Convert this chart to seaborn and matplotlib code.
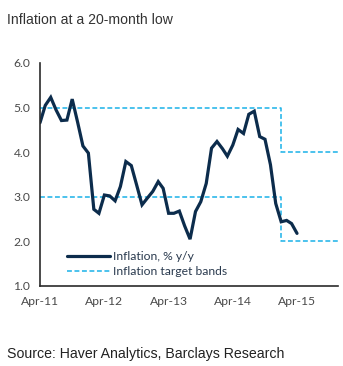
import matplotlib
matplotlib.use("Agg")
import matplotlib.pyplot as plt
import pandas as pd
import seaborn as sns

# Monthly headline inflation, % y/y, Apr-2011 .. Apr-2015
months = pd.date_range("2011-04-01", "2015-04-01", freq="MS")
inflation = [
    4.66, 5.05, 5.23, 4.95, 4.71, 4.72, 5.19, 4.67, 4.14, 3.98, 2.72, 2.63,
    3.04, 3.02, 2.91, 3.23, 3.79, 3.70, 3.27, 2.82, 2.97, 3.12, 3.34, 3.19,
    2.63, 2.63, 2.68, 2.35, 2.05, 2.67, 2.89, 3.30, 4.09, 4.24, 4.08, 3.91,
    4.16, 4.51, 4.42, 4.85, 4.92, 4.35, 4.29, 3.72, 2.85, 2.44, 2.47, 2.40,
    2.18,
]

# Inflation target band edges (step changes)
band_dates = pd.to_datetime(["2011-04-01", "2015-01-01", "2015-11-20"])
band_upper = [5.0, 4.0, 4.0]
band_lower = [3.0, 2.0, 2.0]

tick_dates = pd.to_datetime(["2011-04-01", "2012-04-01", "2013-04-01",
                             "2014-04-01", "2015-04-01"])
tick_labels = ["Apr-11", "Apr-12", "Apr-13", "Apr-14", "Apr-15"]
y_ticks = [1.0, 2.0, 3.0, 4.0, 5.0, 6.0]

title = "Inflation at a 20-month low"
source = "Source: Haver Analytics, Barclays Research"

NAVY = "#0c2c4c"
CYAN = "#1ab2e8"
AXIS = "#2b2b2b"
LABEL = "#4a4a4a"

sns.set_style("white")
plt.rcParams["font.family"] = ["Lato", "DejaVu Sans"]

W, H = 343, 366
fig = plt.figure(figsize=(W / 100, H / 100), dpi=100)
ax = fig.add_axes([40 / W, 1 - 286 / H, 298 / W, 223 / H])

band_df = pd.DataFrame({"date": band_dates, "upper": band_upper,
                        "lower": band_lower})
dash = (0, (3.2, 1.7))
sns.lineplot(data=band_df, x="date", y="upper", ax=ax, color=CYAN, lw=1.1,
             linestyle=dash, drawstyle="steps-post",
             label="Inflation target bands")
sns.lineplot(data=band_df, x="date", y="lower", ax=ax, color=CYAN, lw=1.1,
             linestyle=dash, drawstyle="steps-post", label="_nolegend_")

infl_df = pd.DataFrame({"date": months, "value": inflation})
sns.lineplot(data=infl_df, x="date", y="value", ax=ax, color=NAVY, lw=2.3,
             label="Inflation, % y/y", solid_joinstyle="miter")

ax.set_xlim(pd.Timestamp("2011-04-01"), pd.Timestamp("2015-11-20"))
ax.set_ylim(1.0, 6.0)
ax.set_xticks(tick_dates)
ax.set_xticklabels(tick_labels)
ax.set_yticks(y_ticks)
ax.set_yticklabels([f"{v:.1f}" for v in y_ticks])
ax.set_xlabel("")
ax.set_ylabel("")

for side in ("top", "right"):
    ax.spines[side].set_visible(False)
for side in ("left", "bottom"):
    ax.spines[side].set_color(AXIS)
    ax.spines[side].set_linewidth(1.2)

ax.tick_params(axis="both", which="major", direction="out", length=3,
               width=1.1, color=AXIS, labelsize=8.7, labelcolor=LABEL)
ax.tick_params(axis="y", pad=4)
ax.tick_params(axis="x", pad=4)

handles, labels = ax.get_legend_handles_labels()
order = [labels.index("Inflation, % y/y"), labels.index("Inflation target bands")]
leg = ax.legend([handles[i] for i in order], [labels[i] for i in order],
                loc="center left", bbox_to_anchor=(0.09, 0.098),
                frameon=False, fontsize=8.7, handlelength=3.6,
                handletextpad=0.25, labelspacing=0.35, borderpad=0,
                borderaxespad=0)
for t in leg.get_texts():
    t.set_color("#2a3a4e")

fig.text(7 / W, 1 - 20 / H, title, ha="left", va="center", fontsize=10.1,
         color="#333333", family=["Liberation Sans", "DejaVu Sans"])
fig.text(7 / W, 1 - 354 / H, source, ha="left", va="center", fontsize=10.2,
         color="#222222", family=["Liberation Sans", "DejaVu Sans"])

fig.savefig("out.png", dpi=100)
